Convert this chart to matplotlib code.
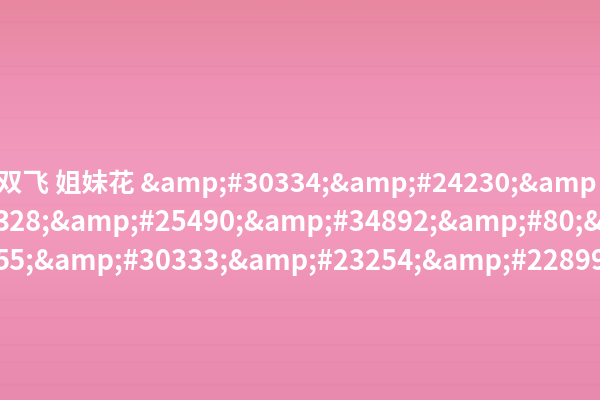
import numpy as np
import matplotlib
matplotlib.use("Agg")
import matplotlib.pyplot as plt
from matplotlib.colors import LinearSegmentedColormap

# Texto visible (recortado a ambos lados en la imagen original)
lineas = [
    "双飞 姐妹花 &amp;#30334;&amp;#24230;&amp",
    "328;&amp;#25490;&amp;#34892;&amp;#80;&",
    "55;&amp;#30333;&amp;#23254;&amp;#22899",
]
x_inicio_px = [-4, -7, -7]       # borde izquierdo de cada línea
linea_base_px = [192, 231, 270]  # línea base medida desde arriba
tam_fuente = [19.1, 19.6, 19.6]

# Fondo rosa: colores leídos de arriba a abajo
fondo_colores = ["#e8879f", "#ed90b3", "#f29abd", "#f198bb", "#ec8fb2", "#e88aad"]
# vetas de la madera (y en px, alpha)
vetas_y = [22, 66, 74, 118, 150, 205, 300, 318, 345, 362, 385]
vetas_alpha = [0.06, 0.07, 0.05, 0.04, 0.03, 0.03, 0.04, 0.05, 0.05, 0.04, 0.05]

W, H = 600, 400
fig = plt.figure(figsize=(6, 4), dpi=100)
ax = fig.add_axes([0, 0, 1, 1])
ax.set_axis_off()

cmap = LinearSegmentedColormap.from_list("fondo", fondo_colores)
grad = np.linspace(0, 1, 256).reshape(-1, 1)
ax.imshow(grad, cmap=cmap, aspect="auto", extent=[0, W, H, 0])
for y, a in zip(vetas_y, vetas_alpha):
    ax.axhline(y, color="#b85a80", alpha=a, linewidth=1.5)
ax.set_xlim(0, W)
ax.set_ylim(H, 0)

plt.rcParams['font.family'] = ['Noto Sans CJK SC', 'DejaVu Sans']

for texto, x0, yb, fs in zip(lineas, x_inicio_px, linea_base_px, tam_fuente):
    fig.text(x0 / W, 1 - yb / H, texto, color="white", fontsize=fs,
             fontweight="bold", ha="left", va="baseline",
             family=['Noto Sans CJK SC', 'DejaVu Sans'])

fig.savefig("out.png", dpi=100)
